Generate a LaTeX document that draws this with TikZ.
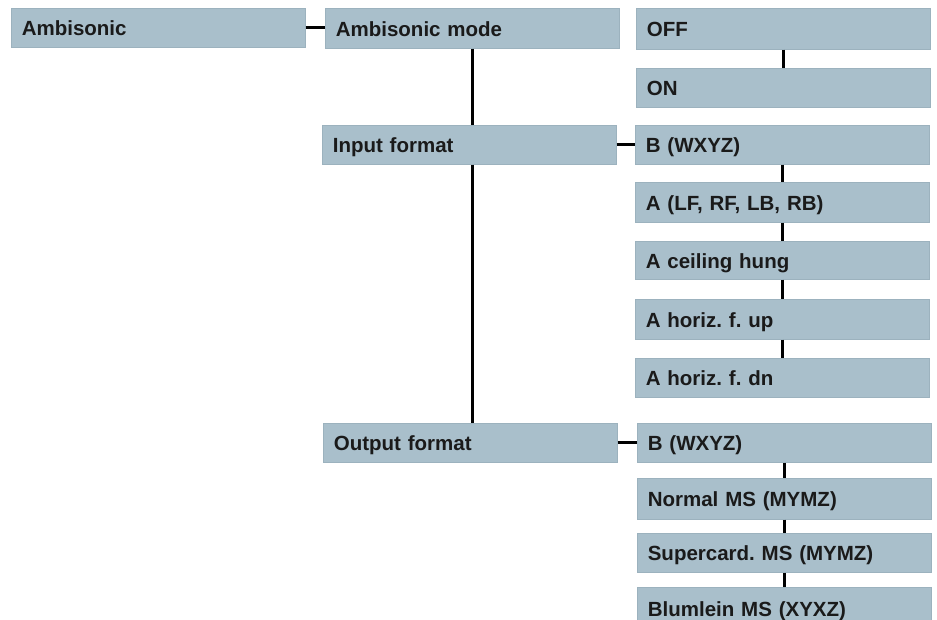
\documentclass[tikz,border=0pt]{standalone}
\usepackage{fontspec}
\setmainfont{Liberation Sans}
\frenchspacing
\definecolor{boxfill}{HTML}{A9BFCB}
\definecolor{boxedge}{HTML}{9CB2BE}
\definecolor{txt}{HTML}{1A1A1A}
\tikzset{
  menubox/.style={anchor=north west, fill=boxfill, draw=boxedge, line width=0.6pt,
    inner xsep=10.5pt, inner ysep=0pt, align=left, text=txt,
    font=\fontsize{20.5}{22}\selectfont\bfseries\frenchspacing,
    text height=16pt, text depth=0pt, text width=273pt, minimum width=294pt},
  link/.style={line width=3pt, draw=black}
}
\begin{document}
\begin{tikzpicture}[x=1pt,y=-1pt]
\useasboundingbox (0,0) rectangle (937,619);
\clip (0,0) rectangle (937,619);
\fill[white] (0,0) rectangle (937,619);
% left / middle column
\node[menubox, minimum height=39pt] (amb) at (11,8) {Ambisonic};
\node[menubox, minimum height=40pt] (mode) at (325,8) {Ambisonic mode};
\node[menubox, minimum height=39pt] (input) at (322,125) {Input format};
\node[menubox, minimum height=39pt] (output) at (323,423) {Output format};
% right column
\node[menubox, minimum height=41pt] (off) at (636,8) {OFF};
\node[menubox, minimum height=39pt] (on) at (636,68) {ON};
\node[menubox, minimum height=39pt] (inB) at (635,125) {B (WXYZ)};
\node[menubox, minimum height=40pt] (a1) at (635,182) {A (LF, RF, LB, RB)};
\node[menubox, minimum height=38pt] (a2) at (635,241) {A ceiling hung};
\node[menubox, minimum height=40pt] (a3) at (635,299) {A horiz. f. up};
\node[menubox, minimum height=39pt] (a4) at (635,358) {A horiz. f. dn};
\node[menubox, minimum height=39pt] (outB) at (637,423) {B (WXYZ)};
\node[menubox, minimum height=41pt] (n1) at (637,478) {Normal MS (MYMZ)};
\node[menubox, minimum height=39pt] (n2) at (637,533) {Supercard. MS (MYMZ)};
\node[menubox, minimum height=42pt] (n3) at (637,587) {Blumlein MS (XYXZ)};
% connectors
\draw[link] (amb.east) -- (amb.east -| mode.west);
\draw[link] (mode.south) -- (mode.south |- input.north);
\draw[link] (mode.south |- input.south) -- (mode.south |- output.north);
\draw[link] (off.south) -- (on.north);
\draw[link] (input.east) -- (input.east -| inB.west);
\draw[link] (inB.south) -- (a1.north);
\draw[link] (a1.south) -- (a2.north);
\draw[link] (a2.south) -- (a3.north);
\draw[link] (a3.south) -- (a4.north);
\draw[link] (output.east) -- (output.east -| outB.west);
\draw[link] (outB.south) -- (n1.north);
\draw[link] (n1.south) -- (n2.north);
\draw[link] (n2.south) -- (n3.north);
\end{tikzpicture}
\end{document}
